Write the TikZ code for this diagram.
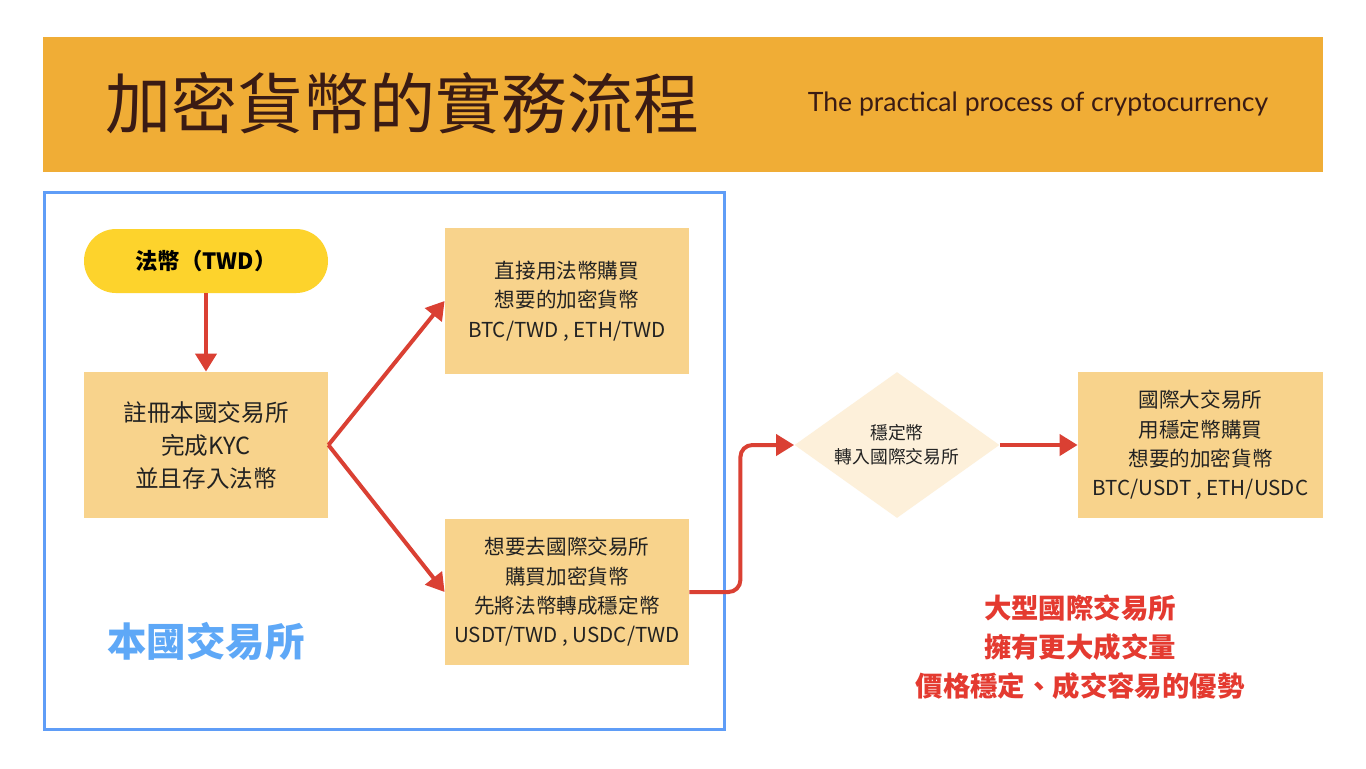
\documentclass[tikz,border=0pt]{standalone}
\usepackage{fontspec}
\setmainfont{Noto Sans CJK TC}
\newfontfamily\enfont{Lato}
\usetikzlibrary{shapes.geometric,arrows.meta,calc}
\definecolor{bannercol}{HTML}{F0AD36}
\definecolor{boxcol}{HTML}{F8D38C}
\definecolor{pillcol}{HTML}{FDD32C}
\definecolor{diacol}{HTML}{FDF0DA}
\definecolor{framecol}{HTML}{5F9DF7}
\definecolor{bluetext}{HTML}{5EA8F7}
\definecolor{redtext}{HTML}{E43A30}
\definecolor{arrowred}{HTML}{DA4033}
\definecolor{titlecol}{HTML}{3A1B14}
\definecolor{textcol}{HTML}{222222}
\tikzset{
  stepbox/.style={fill=boxcol, minimum width=122pt, minimum height=73pt, inner sep=0pt, align=center, text=textcol},
  smalltext/.style={font={\fontsize{10.3pt}{14.7pt}\selectfont}},
  arr/.style={draw=arrowred, line width=2pt, -{Triangle[length=9pt,width=10.5pt]}},
}
\begin{document}
\begin{tikzpicture}[x=0.5pt,y=-0.5pt]
\useasboundingbox (0,0) rectangle (1366,768);
\fill[white] (0,0) rectangle (1366,768);
% banner
\node[fill=bannercol, minimum width=640pt, minimum height=67.5pt, inner sep=0pt] (ban) at (683,104.5) {};
\node[text=titlecol, font={\fontsize{33pt}{36pt}\selectfont}, inner sep=0pt] (title) at (402,103) {加密貨幣的實務流程};
\node[text=titlecol, font={\enfont\fontsize{13.3pt}{15pt}\selectfont}, inner sep=0pt] (sub) at (1038,104) {The practical process of cryptocurrency};
% frame
\node[draw=framecol, line width=1.5pt, minimum width=340pt, minimum height=268.5pt, inner sep=0pt] (frame) at (384,460.5) {};
% pill
\node[fill=pillcol, rounded corners=16pt, minimum width=122pt, minimum height=32pt, inner sep=0pt, text=black, font={\bfseries\fontsize{11.2pt}{13pt}\selectfont}] (pill) at (206,261) {法幣（TWD）};
% boxes
\node[stepbox, font={\fontsize{11.8pt}{16.5pt}\selectfont}] (b1) at (206,445) {註冊本國交易所\\完成KYC\\並且存入法幣};
\node[stepbox, smalltext] (b2) at (567,301) {直接用法幣購買\\想要的加密貨幣\\BTC/TWD , ETH/TWD};
\node[stepbox, smalltext] (b3) at (567,592) {想要去國際交易所\\購買加密貨幣\\先將法幣轉成穩定幣\\USDT/TWD , USDC/TWD};
\node[diamond, fill=diacol, aspect=1.4, minimum width=102.5pt, minimum height=73pt, inner sep=0pt, align=center, text=textcol, font={\fontsize{8.9pt}{12pt}\selectfont}] (dia) at (897,445) {穩定幣\\轉入國際交易所};
\node[stepbox, smalltext, minimum width=122.5pt] (b4) at (1200.5,445) {國際大交易所\\用穩定幣購買\\想要的加密貨幣\\BTC/USDT , ETH/USDC};
% labels
\node[text=bluetext, font={\bfseries\fontsize{19.7pt}{22pt}\selectfont}] (blue) at (206,641) {本國交易所};
\node[text=redtext, align=center, font={\bfseries\fontsize{13.7pt}{19.3pt}\selectfont}] (red) at (1080,647) {大型國際交易所\\擁有更大成交量\\價格穩定、成交容易的優勢};
% arrows
\draw[arr] (pill.south) -- (b1.north);
\draw[arr] (b1.east) -- (b2.west);
\draw[arr] (b1.east) -- (b3.west);
\draw[arr, rounded corners=6pt] (b3.east) -- ++(51,0) |- (dia.west);
\draw[arr] (dia.east) -- (b4.west);
\end{tikzpicture}
\end{document}
